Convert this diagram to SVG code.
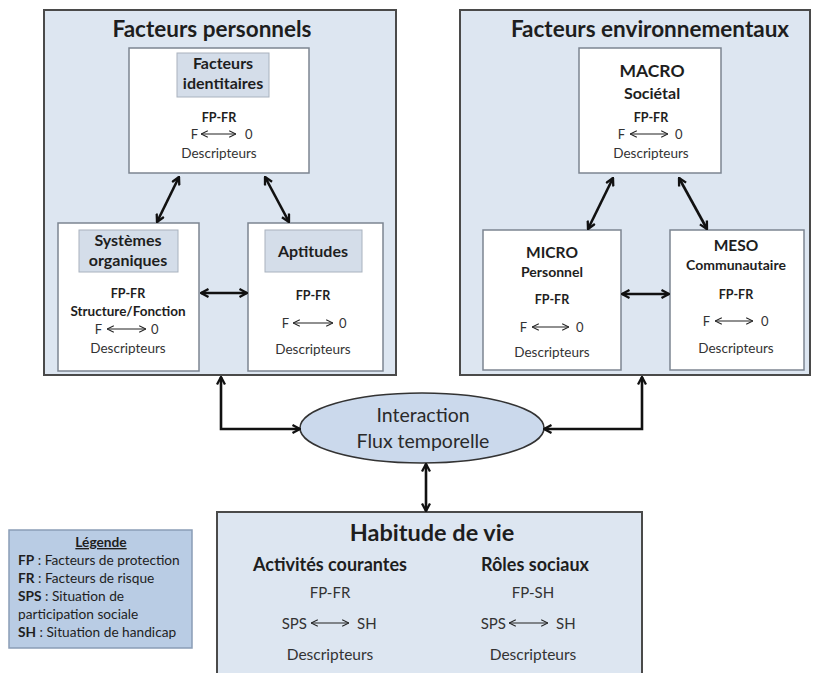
<svg xmlns="http://www.w3.org/2000/svg" width="813" height="673" viewBox="0 0 813 673">
<style>
text{font-family:Lato,"Open Sans","Liberation Sans",sans-serif;fill:#1e1e1e;text-anchor:middle}
.outer{fill:#dde6f1;stroke:#4a4a4a;stroke-width:2}
.inner{fill:#ffffff;stroke:#7c8591;stroke-width:1.5}
.lab{fill:#d4dde9;stroke:#a9b2be;stroke-width:1}
.t1{font-size:22.5px;font-weight:bold}
.t2{font-size:16px;font-weight:bold}
.fp{font-size:12.5px;font-weight:bold}
.d{font-size:13.5px;fill:#333}
.fo{font-size:13px;fill:#333}
.s{text-anchor:start}
.e{text-anchor:end}
.big{fill:none;stroke:#111;stroke-width:2.6}
.sm{fill:none;stroke:#222;stroke-width:1.1}
.b{font-size:15px;fill:#333}
.lg{font-size:13.7px}
</style>
<defs>
<marker id="ah" viewBox="0 0 10 10" refX="9" refY="5" markerWidth="10" markerHeight="10" markerUnits="userSpaceOnUse" orient="auto-start-reverse">
<path d="M1.5,1 L9,5 L1.5,9" fill="none" stroke="#111" stroke-width="2.3"/>
</marker>
<marker id="sa" viewBox="0 0 10 10" refX="9.5" refY="5" markerWidth="8" markerHeight="8" markerUnits="userSpaceOnUse" orient="auto-start-reverse">
<path d="M1,1 L9.5,5 L1,9" fill="none" stroke="#222" stroke-width="1.4"/>
</marker>
</defs>

<g id="facteurs-personnels">
<rect class="outer" x="44" y="10" width="352" height="365"/>
<text class="t1" x="212" y="37">Facteurs personnels</text>
</g>
<g id="facteurs-identitaires">
<rect class="inner" x="129" y="48" width="180" height="125"/>
<rect class="lab" x="177" y="53" width="92" height="44"/>
<text class="t2" x="223" y="69">Facteurs</text>
<text class="t2" x="223" y="89">identitaires</text>
<text class="fp" x="219" y="122">FP-FR</text>
<text class="fo e" x="198" y="139">F</text>
<text class="fo s" x="245" y="139">0</text>
<path class="sm" d="M201,134 H236" marker-start="url(#sa)" marker-end="url(#sa)"/>
<text class="d" x="219" y="158">Descripteurs</text>
</g>
<g id="systemes-organiques">
<rect class="inner" x="58" y="223" width="141" height="148"/>
<rect class="lab" x="79" y="230" width="99" height="42"/>
<text class="t2" x="128" y="246">Systèmes</text>
<text class="t2" x="128" y="266">organiques</text>
<text class="fp" x="128" y="298">FP-FR</text>
<text class="fp" x="128" y="316" style="font-size:13.5px">Structure/Fonction</text>
<text class="fo e" x="102" y="334">F</text>
<text class="fo s" x="151" y="334">0</text>
<path class="sm" d="M107,329 H146" marker-start="url(#sa)" marker-end="url(#sa)"/>
<text class="d" x="128" y="353">Descripteurs</text>
</g>
<g id="aptitudes">
<rect class="inner" x="248" y="223" width="135" height="148"/>
<rect class="lab" x="265" y="230" width="97" height="42"/>
<text class="t2" x="313" y="257">Aptitudes</text>
<text class="fp" x="313" y="300">FP-FR</text>
<text class="fo e" x="289" y="328">F</text>
<text class="fo s" x="339" y="328">0</text>
<path class="sm" d="M293,323 H333" marker-start="url(#sa)" marker-end="url(#sa)"/>
<text class="d" x="313" y="354">Descripteurs</text>
</g>

<g id="facteurs-environnementaux">
<rect class="outer" x="460" y="10" width="350" height="365"/>
<text class="t1" x="650" y="37">Facteurs environnementaux</text>
</g>
<g id="macro">
<rect class="inner" x="579" y="48" width="142" height="125"/>
<text class="t2" x="652" y="77" style="font-size:17.5px">MACRO</text>
<text class="t2" x="652" y="99">Sociétal</text>
<text class="fp" x="651" y="122">FP-FR</text>
<text class="fo e" x="625" y="139">F</text>
<text class="fo s" x="675" y="139">0</text>
<path class="sm" d="M630,134 H668" marker-start="url(#sa)" marker-end="url(#sa)"/>
<text class="d" x="651" y="158">Descripteurs</text>
</g>
<g id="micro">
<rect class="inner" x="483" y="230" width="138" height="140"/>
<text class="t2" x="552" y="258" style="font-size:15.5px">MICRO</text>
<text class="t2" x="552" y="277" style="font-size:14px">Personnel</text>
<text class="fp" x="552" y="304">FP-FR</text>
<text class="fo e" x="527" y="332">F</text>
<text class="fo s" x="576" y="332">0</text>
<path class="sm" d="M532,327 H569" marker-start="url(#sa)" marker-end="url(#sa)"/>
<text class="d" x="552" y="357">Descripteurs</text>
</g>
<g id="meso">
<rect class="inner" x="670" y="230" width="134" height="140"/>
<text class="t2" x="736" y="251" style="font-size:15.5px">MESO</text>
<text class="t2" x="736" y="270" style="font-size:14px">Communautaire</text>
<text class="fp" x="736" y="299">FP-FR</text>
<text class="fo e" x="710" y="326">F</text>
<text class="fo s" x="761" y="326">0</text>
<path class="sm" d="M715,321 H753" marker-start="url(#sa)" marker-end="url(#sa)"/>
<text class="d" x="736" y="353">Descripteurs</text>
</g>

<g id="interaction">
<ellipse cx="422" cy="428" rx="122" ry="35" fill="#cbd9ec" stroke="#333" stroke-width="1.5"/>
<text x="423" y="422" style="font-size:19.5px;fill:#2a2a2a">Interaction</text>
<text x="423" y="448" style="font-size:19.5px;fill:#2a2a2a">Flux temporelle</text>
</g>

<g id="habitude-de-vie">
<rect class="outer" x="217" y="512" width="425" height="180"/>
<text class="t1" x="432" y="541" style="font-size:23.5px">Habitude de vie</text>
<text x="330" y="571" style="font-size:18px;font-weight:bold">Activités courantes</text>
<text x="535" y="571" style="font-size:18px;font-weight:bold">Rôles sociaux</text>
<text class="b" x="330" y="598">FP-FR</text>
<text class="b" x="533" y="598">FP-SH</text>
<text class="b e" x="307" y="629">SPS</text>
<text class="b s" x="357" y="629">SH</text>
<path class="sm" d="M311,623 H349" marker-start="url(#sa)" marker-end="url(#sa)"/>
<text class="b e" x="506" y="629">SPS</text>
<text class="b s" x="556" y="629">SH</text>
<path class="sm" d="M509,623 H548" marker-start="url(#sa)" marker-end="url(#sa)"/>
<text class="b" x="330" y="660" style="font-size:15.5px">Descripteurs</text>
<text class="b" x="533" y="660" style="font-size:15.5px">Descripteurs</text>
</g>

<g id="legende">
<rect x="9" y="530" width="183" height="118" fill="#b9cce4" stroke="#8a9db6" stroke-width="1.5"/>
<text class="lg" x="101" y="547" style="font-weight:bold;text-decoration:underline">Légende</text>
<text class="s lg" x="18" y="565"><tspan font-weight="bold">FP</tspan> : Facteurs de protection</text>
<text class="s lg" x="18" y="583"><tspan font-weight="bold">FR</tspan> : Facteurs de risque</text>
<text class="s lg" x="18" y="601"><tspan font-weight="bold">SPS</tspan> : Situation de</text>
<text class="s lg" x="18" y="619">participation sociale</text>
<text class="s lg" x="18" y="637"><tspan font-weight="bold">SH</tspan> : Situation de handicap</text>
</g>

<g id="connectors">
<path class="big" d="M179,177 L157,222" marker-start="url(#ah)" marker-end="url(#ah)"/>
<path class="big" d="M265,177 L289,222" marker-start="url(#ah)" marker-end="url(#ah)"/>
<path class="big" d="M201,293 H247" marker-start="url(#ah)" marker-end="url(#ah)"/>
<path class="big" d="M613,178 L588,229" marker-start="url(#ah)" marker-end="url(#ah)"/>
<path class="big" d="M679,178 L707,229" marker-start="url(#ah)" marker-end="url(#ah)"/>
<path class="big" d="M622,294 H669" marker-start="url(#ah)" marker-end="url(#ah)"/>
<path class="big" d="M221,377 V429 H300" marker-start="url(#ah)" marker-end="url(#ah)"/>
<path class="big" d="M642,377 V429 H544" marker-start="url(#ah)" marker-end="url(#ah)"/>
<path class="big" d="M426,464 V511" marker-start="url(#ah)" marker-end="url(#ah)"/>
</g>
</svg>
